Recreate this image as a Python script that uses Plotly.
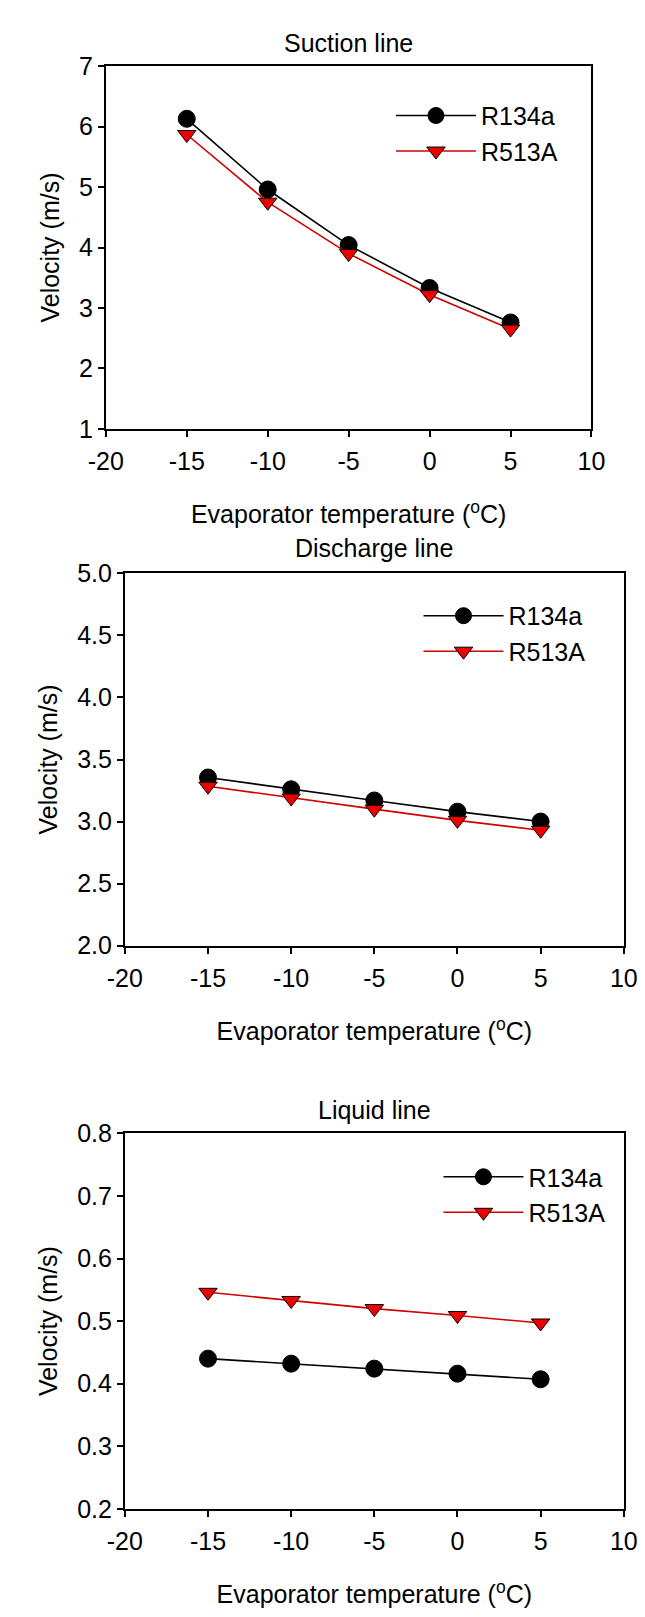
import plotly.graph_objects as go

W, H = 645, 1617

temps = [-15, -10, -5, 0, 5]
x_ticks = [-20, -15, -10, -5, 0, 5, 10]
x_ticktext = ["-20", "-15", "-10", "-5", "0", "5", "10"]

suction_r134a = [6.13, 4.96, 4.04, 3.33, 2.76]
suction_r513a = [5.87, 4.75, 3.90, 3.22, 2.65]
discharge_r134a = [3.355, 3.26, 3.17, 3.08, 3.00]
discharge_r513a = [3.285, 3.19, 3.10, 3.01, 2.93]
liquid_r134a = [0.440, 0.432, 0.424, 0.416, 0.407]
liquid_r513a = [0.546, 0.533, 0.520, 0.509, 0.497]

panel_titles = ["Suction line", "Discharge line", "Liquid line"]
series_names = ["R134a", "R513A"]
y_ranges = [[1, 7], [2.0, 5.0], [0.2, 0.8]]
y_dticks = [1, 0.5, 0.1]
y_formats = ["d", ".1f", ".1f"]
x_title = "Evaporator temperature (<sup>o</sup>C)"
y_title = "Velocity (m/s)"

FONT = "Arial, Liberation Sans, sans-serif"

def px_x(p):
    return p / W

def px_y(p):
    return 1 - p / H

# panel boxes in pixels (left, right, top, bottom)
boxes = [(84, 595, 45, 414), (104, 629, 561, 940), (104, 629, 1131, 1513)]
title_y = [21, 535, 1107]
legend_pos = [(384, 72), (413, 581), (434, 1152)]

data = [(suction_r134a, suction_r513a), (discharge_r134a, discharge_r513a), (liquid_r134a, liquid_r513a)]

fig = go.Figure()
layout = dict(
    width=W, height=H, margin=dict(l=0, r=0, t=0, b=0),
    paper_bgcolor="white", plot_bgcolor="white",
    font=dict(family=FONT, size=24, color="black"),
    showlegend=True,
)
annotations = []
for i in range(3):
    n = "" if i == 0 else str(i + 1)
    xa = "x" + n
    ya = "y" + n
    lg = "legend" + n
    r134, r513 = data[i]
    fig.add_trace(go.Scatter(
        x=temps, y=r134, name=series_names[0], mode="lines+markers",
        line=dict(color="black", width=1.6),
        marker=dict(symbol="circle", size=17, color="black", line=dict(color="black", width=1)),
        xaxis=xa, yaxis=ya, legend=lg))
    fig.add_trace(go.Scatter(
        x=temps, y=r513, name=series_names[1], mode="lines+markers",
        line=dict(color="#d00000", width=1.6),
        marker=dict(symbol="triangle-down", size=16, color="#ee0000", line=dict(color="black", width=1)),
        xaxis=xa, yaxis=ya, legend=lg))
    l, r, t, b = boxes[i]
    axcommon = dict(showgrid=False, zeroline=False, showline=True, linecolor="black", linewidth=1.8,
                    mirror=True, ticks="outside", ticklen=6, tickwidth=1.5, tickcolor="black",
                    tickfont=dict(size=25, family=FONT, color="black"))
    layout["xaxis" + n] = dict(
        domain=[px_x(l), px_x(r)], range=[-20, 10], tickvals=x_ticks, ticktext=x_ticktext,
        anchor=ya, ticklabelstandoff=3,
        title=dict(text=x_title, font=dict(size=25, family=FONT), standoff=32),
        **axcommon)
    layout["yaxis" + n] = dict(
        domain=[px_y(b), px_y(t)], range=y_ranges[i], dtick=y_dticks[i], tick0=y_ranges[i][0],
        tickformat=y_formats[i], anchor=xa,
        title=dict(text=y_title, font=dict(size=25, family=FONT), standoff=12),
        **axcommon)
    lx, ly = legend_pos[i]
    layout[lg] = dict(x=px_x(lx), y=px_y(ly), xanchor="left", yanchor="top",
                      bgcolor="rgba(0,0,0,0)", borderwidth=0, itemwidth=80,
                      font=dict(size=25, family=FONT, color="black"), tracegroupgap=0)
    annotations.append(dict(text=panel_titles[i], x=px_x((l + r) / 2), y=px_y(title_y[i]),
                            xref="paper", yref="paper", xanchor="center", yanchor="middle",
                            showarrow=False, font=dict(size=25, family=FONT, color="black")))
layout["annotations"] = annotations
fig.update_layout(**layout)
fig.write_html("out.html")
